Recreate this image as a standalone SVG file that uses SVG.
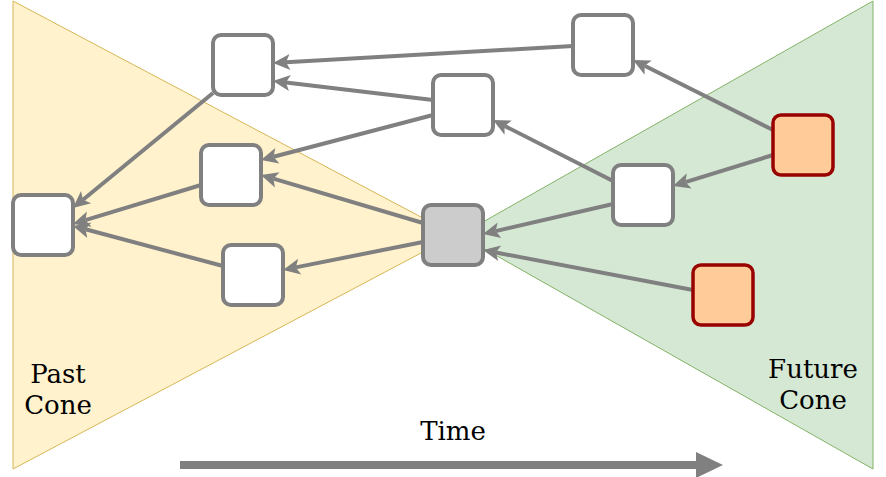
<svg xmlns="http://www.w3.org/2000/svg" width="886" height="477" viewBox="0 0 886 477">
<defs>
<style>
.node{fill:#ffffff;stroke:#808080;stroke-width:4}
.cur{fill:#cccccc;stroke:#808080;stroke-width:4}
.fut{fill:#ffcc99;stroke:#990000;stroke-width:3.5}
.edge{stroke:#808080;stroke-width:4;fill:none;marker-end:url(#ah)}
.lbl{font-family:"DejaVu Serif",serif;font-size:26px;fill:#000000;text-anchor:middle}
</style>
<marker id="ah" markerUnits="userSpaceOnUse" markerWidth="19" markerHeight="17" viewBox="0 0 19 17" refX="5" refY="8.5" orient="auto">
<path d="M1,0.5 L18,8.5 L1,16.5 L5,8.5 z" fill="#808080"/>
</marker>
</defs>
<g id="past-cone">
<polygon points="13,1 13,469 455,235" fill="#fff2cc" stroke="#d6b656" stroke-width="1"/>
<text class="lbl" x="58" y="383">Past</text>
<text class="lbl" x="58" y="414">Cone</text>
</g>
<g id="future-cone">
<polygon points="873,1 873,469 460,235" fill="#d5e8d4" stroke="#82b366" stroke-width="1"/>
<text class="lbl" x="813" y="378">Future</text>
<text class="lbl" x="813" y="409">Cone</text>
</g>
<g id="connectors">
<line class="edge" x1="573" y1="46" x2="286" y2="62.3"/>
<line class="edge" x1="433" y1="100" x2="285.9" y2="82.5"/>
<line class="edge" x1="433" y1="115" x2="273.5" y2="156.7"/>
<line class="edge" x1="213" y1="93" x2="83" y2="199.7"/>
<line class="edge" x1="201" y1="185" x2="85.4" y2="220.2"/>
<line class="edge" x1="223" y1="266" x2="85.5" y2="229.3"/>
<line class="edge" x1="423" y1="223" x2="273.4" y2="178.7"/>
<line class="edge" x1="423" y1="242" x2="295.8" y2="267.4"/>
<line class="edge" x1="613" y1="181" x2="504.6" y2="125.9"/>
<line class="edge" x1="613" y1="204" x2="495.6" y2="231.1"/>
<line class="edge" x1="773" y1="130" x2="644.6" y2="65.8"/>
<line class="edge" x1="773" y1="155" x2="685.4" y2="182.1"/>
<line class="edge" x1="693" y1="290" x2="495.8" y2="252.5"/>
</g>
<g id="n-a"><rect class="node" x="213" y="35" width="60" height="60" rx="8"/></g>
<g id="n-b"><rect class="node" x="573" y="15" width="60" height="60" rx="8"/></g>
<g id="n-c"><rect class="node" x="433" y="75" width="60" height="60" rx="8"/></g>
<g id="n-d"><rect class="node" x="201" y="145" width="60" height="60" rx="8"/></g>
<g id="n-e"><rect class="node" x="13" y="195" width="60" height="60" rx="8"/></g>
<g id="n-f"><rect class="node" x="223" y="245" width="60" height="60" rx="8"/></g>
<g id="n-g"><rect class="cur" x="423" y="205" width="60" height="60" rx="8"/></g>
<g id="n-h"><rect class="node" x="613" y="165" width="60" height="60" rx="8"/></g>
<g id="n-i"><rect class="fut" x="773" y="115" width="60" height="60" rx="8"/></g>
<g id="n-j"><rect class="fut" x="693" y="265" width="60" height="60" rx="8"/></g>
<g id="time">
<line x1="180" y1="465" x2="698" y2="465" stroke="#808080" stroke-width="8"/>
<polygon points="696,452 723,465 696,478" fill="#808080"/>
<text class="lbl" x="453" y="440">Time</text>
</g>
</svg>
